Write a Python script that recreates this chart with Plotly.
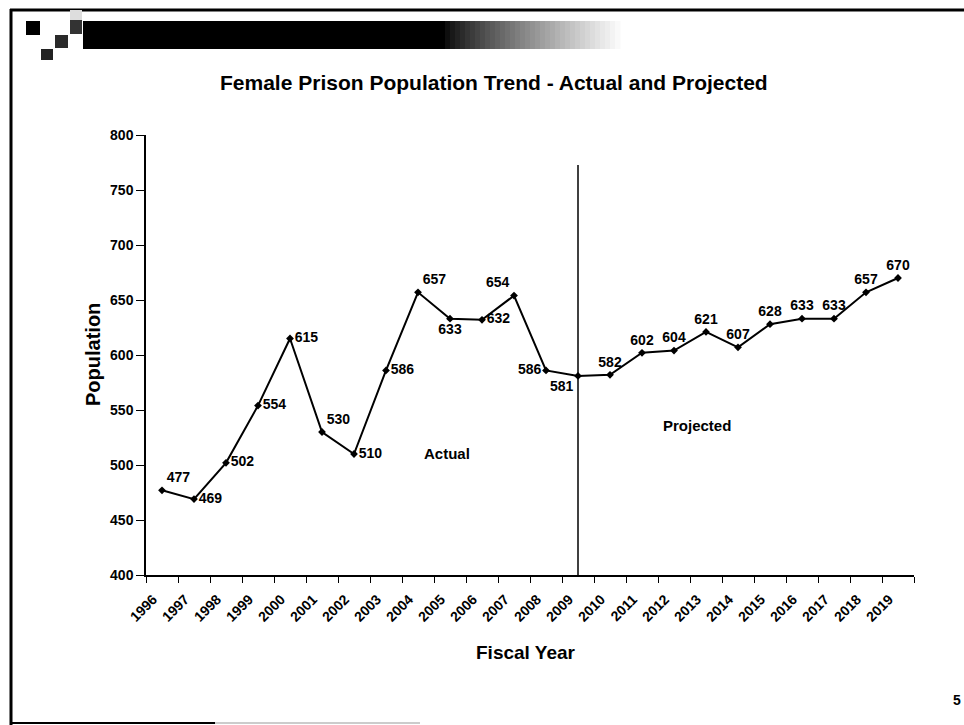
import plotly.graph_objects as go

# Fiscal years and female prison population (actual through 2009, projected after)
years = [str(y) for y in range(1996, 2020)]
population = [477, 469, 502, 554, 615, 530, 510, 586, 657, 633, 632, 654,
              586, 581, 582, 602, 604, 621, 607, 628, 633, 633, 657, 670]
last_actual_year = "2009"

# Where each value label sits relative to its point
label_pos = ["top right", "middle right", "middle right", "middle right", "middle right",
             "top right", "middle right", "middle right", "top right", "bottom center",
             "middle right", "top left", "middle left", "bottom left", "top center",
             "top center", "top center", "top center", "top center", "top center",
             "top center", "top center", "top center", "top center"]

W, H = 964, 725
L, R, T, B = 146, 914, 135, 575
FONT = "Liberation Sans, Arial, sans-serif"


def px(x):
    return (x - L) / (R - L)


def py(y):
    return (B - y) / (B - T)


fig = go.Figure()
fig.add_trace(go.Scatter(
    x=years, y=population,
    mode="lines+markers+text",
    line=dict(color="black", width=2),
    marker=dict(symbol="diamond", size=6, color="black"),
    text=[str(v) for v in population],
    textposition=label_pos,
    textfont=dict(family=FONT, size=14, color="black", weight="bold"),
    cliponaxis=False,
    hoverinfo="x+y",
))

shapes = []
# Divider between actual and projected values
shapes.append(dict(type="line", xref="x", yref="paper",
                   x0=years.index(last_actual_year), x1=years.index(last_actual_year),
                   y0=0, y1=py(165), line=dict(color="black", width=1.5)))

# Slide frame
shapes.append(dict(type="line", xref="paper", yref="paper", x0=px(10), x1=px(964),
                   y0=py(10), y1=py(10), line=dict(color="black", width=3)))
shapes.append(dict(type="line", xref="paper", yref="paper", x0=px(11), x1=px(11),
                   y0=py(9), y1=py(725), line=dict(color="black", width=3)))
shapes.append(dict(type="line", xref="paper", yref="paper", x0=px(10), x1=px(215),
                   y0=py(723), y1=py(723), line=dict(color="black", width=2)))
shapes.append(dict(type="line", xref="paper", yref="paper", x0=px(215), x1=px(420),
                   y0=py(723), y1=py(723), line=dict(color="#cccccc", width=2)))

# Header decoration: small squares and a fading bar
squares = [(26, 21, 40, 35, "#000000"), (70, 20, 82, 34, "#333333"),
           (70, 10, 82, 20, "#dddddd"), (55, 35, 68, 48, "#2a2a2a"),
           (41, 49, 53, 60, "#222222")]
for x0, y0, x1, y1, c in squares:
    shapes.append(dict(type="rect", xref="paper", yref="paper", x0=px(x0), x1=px(x1),
                       y0=py(y1), y1=py(y0), fillcolor=c, line=dict(width=0), layer="above"))
shapes.append(dict(type="rect", xref="paper", yref="paper", x0=px(83), x1=px(445),
                   y0=py(49), y1=py(21), fillcolor="black", line=dict(width=0)))
steps = 35
for i in range(steps):
    x0 = 445 + i * 5
    g = int(255 * ((i + 1) / (steps + 1)) ** 0.8)
    shapes.append(dict(type="rect", xref="paper", yref="paper", x0=px(x0), x1=px(x0 + 5.5),
                       y0=py(49), y1=py(21), fillcolor=f"rgb({g},{g},{g})", line=dict(width=0)))


def note(text, x, y, size, angle=0):
    return dict(text=f"<b>{text}</b>", xref="paper", yref="paper", x=px(x), y=py(y),
                xanchor="center", yanchor="middle", showarrow=False, textangle=angle,
                font=dict(family=FONT, size=size, color="black"))


annotations = [
    note("Female Prison Population Trend - Actual and Projected", 494, 82, 21),
    note("Population", 93, 355, 20, -90),
    note("Fiscal Year", 526, 652, 19),
    note("Actual", 447, 453, 15),
    note("Projected", 697, 425, 15),
    note("5", 957, 700, 14),
]

fig.update_layout(
    width=W, height=H,
    margin=dict(l=L, r=W - R, t=T, b=H - B, pad=0),
    paper_bgcolor="white", plot_bgcolor="white",
    showlegend=False,
    shapes=shapes, annotations=annotations,
    font=dict(family=FONT, color="black"),
)
fig.update_xaxes(
    type="category", range=[-0.5, len(years) - 0.5],
    showline=True, linecolor="black", linewidth=1.5,
    ticks="outside", ticklen=6, tickcolor="black", tickson="boundaries",
    tickangle=-45, showgrid=False, zeroline=False,
    ticklabelstandoff=9, ticklabelshift=-9,
    tickfont=dict(family=FONT, size=14, color="black", weight="bold"),
)
fig.update_yaxes(
    range=[400, 800], dtick=50,
    showline=True, linecolor="black", linewidth=1.5,
    ticks="outside", ticklen=8, tickcolor="black",
    showgrid=False, zeroline=False,
    tickfont=dict(family=FONT, size=14, color="black", weight="bold"),
)

fig.write_html("out.html")
